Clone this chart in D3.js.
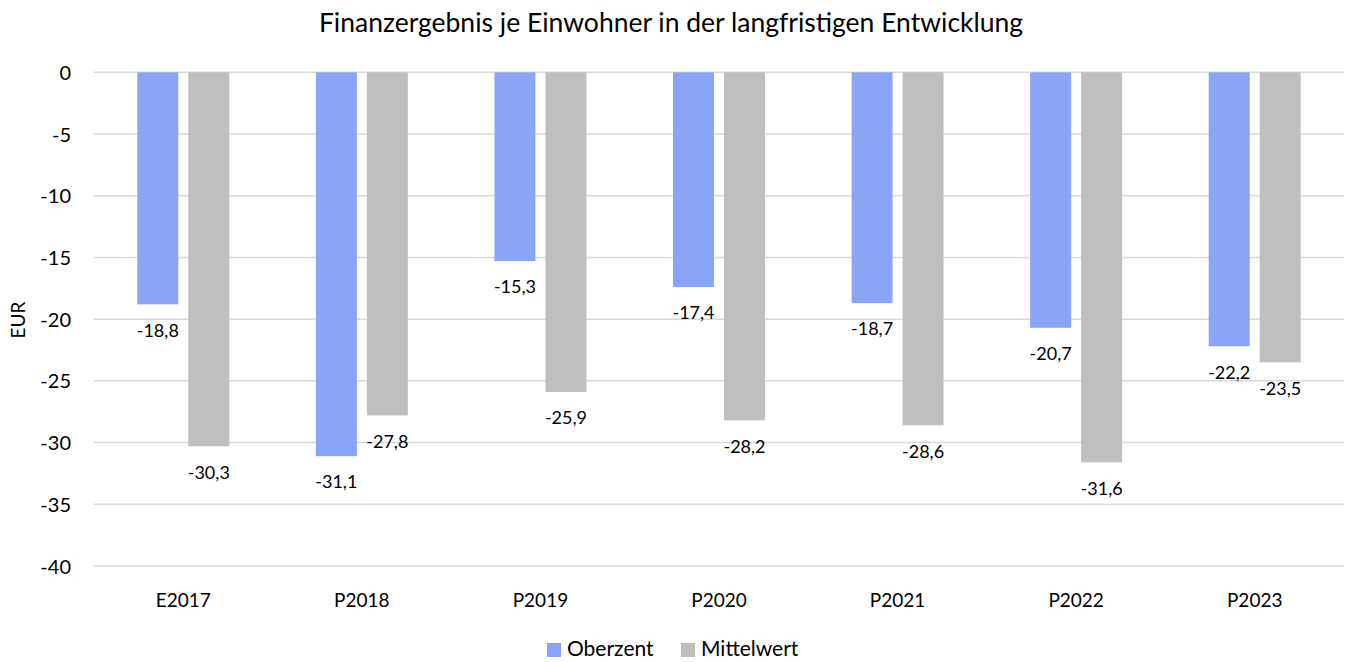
<!DOCTYPE html>
<html><head><meta charset="utf-8">
<script src="https://cdn.jsdelivr.net/npm/d3@7"></script>
<style>body{margin:0;background:#fff;} svg{display:block;font-family:Lato,"Open Sans",sans-serif;}</style>
</head><body>
<svg id="c" width="1350" height="662"></svg>
<script>
const categories = ["E2017","P2018","P2019","P2020","P2021","P2022","P2023"];
const seriesNames = ["Oberzent","Mittelwert"];
const oberzent = [-18.8,-31.1,-15.3,-17.4,-18.7,-20.7,-22.2];
const mittelwert = [-30.3,-27.8,-25.9,-28.2,-28.6,-31.6,-23.5];
const yTicks = [0,-5,-10,-15,-20,-25,-30,-35,-40];
const colors = ["#8aa5f8","#bfbfbf"];
const title = "Finanzergebnis je Einwohner in der langfristigen Entwicklung";

const svg = d3.select("#c");
const x0 = d3.scaleBand().domain(categories).range([94,1344]);
const bw = x0.bandwidth();
const x1 = d3.scaleBand().domain(seriesNames).range([0,bw]).paddingInner(10/51).paddingOuter(0.849);
const y = d3.scaleLinear().domain([-40,0]).range([566,72.3]);

// gridlines
svg.append("g").selectAll("line").data(yTicks).join("line")
  .attr("x1",94).attr("x2",1344).attr("y1",d=>y(d)).attr("y2",d=>y(d))
  .attr("stroke","#d9d9d9").attr("stroke-width",1.5);

// y axis
const yAxis = d3.axisLeft(y).tickValues(yTicks).tickSize(0).tickPadding(0).tickFormat(d=>String(d).replace("−","-"));
const ga = svg.append("g").attr("transform","translate(71,0)").call(yAxis);
ga.select(".domain").remove();
ga.selectAll("text").attr("font-size",20).attr("fill","#000").attr("font-family","Lato,'Open Sans',sans-serif").attr("dy","0.35em");

// x axis
const xAxis = d3.axisBottom(x0).tickSize(0).tickPadding(0);
const gx = svg.append("g").attr("transform","translate(0,600)").call(xAxis);
gx.select(".domain").remove();
gx.selectAll("text").attr("font-size",19).attr("fill","#000").attr("font-family","Lato,'Open Sans',sans-serif").attr("dy","0.35em");

const data = categories.map((c,i)=>({cat:c, vals:[{s:seriesNames[0],v:oberzent[i]},{s:seriesNames[1],v:mittelwert[i]}]}));
const groups = svg.append("g").selectAll("g").data(data).join("g")
  .attr("transform",d=>`translate(${x0(d.cat)},0)`);
groups.selectAll("rect").data(d=>d.vals).join("rect")
  .attr("x",d=>x1(d.s)).attr("width",x1.bandwidth())
  .attr("y",y(0)).attr("height",d=>y(d.v)-y(0))
  .attr("fill",(d,i)=>colors[i]);
groups.selectAll("text").data(d=>d.vals).join("text")
  .attr("x",d=>x1(d.s)+x1.bandwidth()/2).attr("y",d=>y(d.v)+26)
  .attr("text-anchor","middle").attr("dy","0.35em").attr("font-size",18).attr("fill","#000")
  .text(d=>d3.format(".1f")(d.v).replace("−","-").replace(".",","));

// title
svg.append("text").attr("x",671).attr("y",23).attr("text-anchor","middle").attr("dy","0.35em")
  .attr("font-size",26.5).attr("fill","#000").text(title);

// y label
svg.append("text").attr("transform","translate(18,320) rotate(-90)").attr("text-anchor","middle")
  .attr("dy","0.35em").attr("font-size",19).attr("fill","#000").text("EUR");

// legend
const legX = [547,681];
const lg = svg.append("g").selectAll("g").data(seriesNames).join("g")
  .attr("transform",(d,i)=>`translate(${legX[i]},649)`);
lg.append("rect").attr("x",0).attr("y",-6).attr("width",14).attr("height",14).attr("fill",(d,i)=>colors[i]);
lg.append("text").attr("x",20).attr("y",0).attr("dy","0.35em").attr("font-size",21).attr("fill","#000").text(d=>d);
</script>
</body></html>
